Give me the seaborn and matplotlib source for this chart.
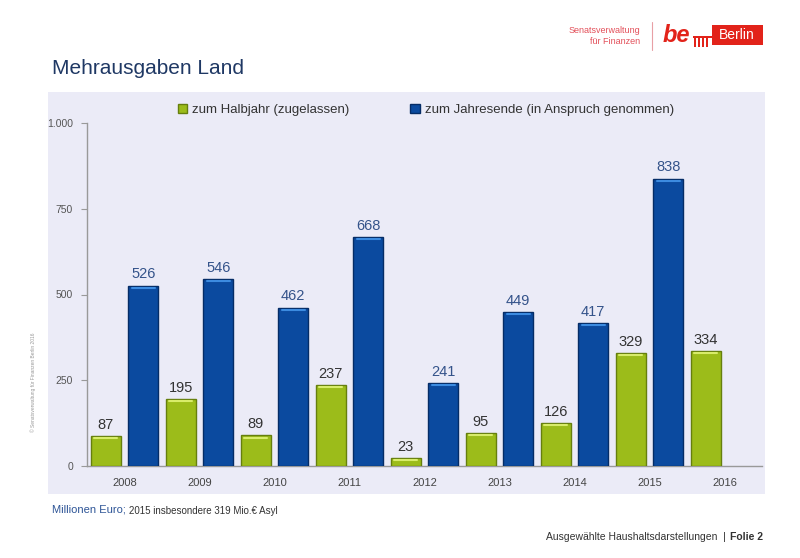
import numpy as np
import pandas as pd
import matplotlib
matplotlib.use("Agg")
import matplotlib.pyplot as plt
import seaborn as sns
from matplotlib.patches import Rectangle, Patch

years = ['2008', '2009', '2010', '2011', '2012', '2013', '2014', '2015', '2016']
halbjahr = [87, 195, 89, 237, 23, 95, 126, 329, 334]
jahresende = [526, 546, 462, 668, 241, 449, 417, 838, np.nan]
series_names = ['zum Halbjahr (zugelassen)', 'zum Jahresende (in Anspruch genommen)']
y_ticks = [0, 250, 500, 750, 1000]
y_tick_labels = ['0', '250', '500', '750', '1.000']

GREEN = '#9CBC1A'
GREEN_EDGE = '#667F0E'
BLUE = '#0B4A9F'
BLUE_EDGE = '#052C66'
SANS = ['Liberation Sans', 'DejaVu Sans']


def main():
    sns.set_style('white')
    plt.rcParams['font.family'] = SANS

    df = pd.DataFrame({
        'Jahr': years * 2,
        'Wert': halbjahr + jahresende,
        'Reihe': [series_names[0]] * len(years) + [series_names[1]] * len(years),
    })

    fig = plt.figure(figsize=(8, 5.58), dpi=100)
    fig.patch.set_facecolor('white')

    # light panel behind the chart
    fig.patches.append(Rectangle((48 / 800, 1 - 494 / 558), 717 / 800, 402 / 558,
                                 transform=fig.transFigure, facecolor='#EBEBF7',
                                 edgecolor='none', zorder=-5))

    ax = fig.add_axes([87 / 800, 1 - 466 / 558, 675 / 800, 343 / 558])
    ax.set_facecolor('none')
    ax.set_zorder(2)

    sns.barplot(data=df, x='Jahr', y='Wert', hue='Reihe', order=years,
                hue_order=series_names, palette=[GREEN, BLUE], saturation=1,
                width=1.0, gap=0.2, ax=ax, legend=False, zorder=3)

    for i, bar in enumerate(ax.patches):
        if np.isnan(bar.get_height()):
            continue
        is_green = i < len(years)
        bar.set_edgecolor(GREEN_EDGE if is_green else BLUE_EDGE)
        bar.set_linewidth(1.0)
        x = bar.get_x() + bar.get_width() / 2
        h = bar.get_height()
        # light top edge, like the bevel in the original
        ax.plot([bar.get_x() + bar.get_width() * 0.12, bar.get_x() + bar.get_width() * 0.88],
                [h - 6, h - 6], color='#D8EC6A' if is_green else '#3C8BE0', lw=1.5,
                zorder=4, solid_capstyle='round')
        ax.text(x, h + 12, f'{h:.0f}', ha='center', va='bottom', fontsize=10.5,
                color='#333333' if is_green else '#34538A', clip_on=False)

    ax.set_ylim(0, 1000)
    ax.set_xlim(-0.5, len(years) - 0.5)
    ax.set_yticks(y_ticks)
    ax.set_yticklabels(y_tick_labels)
    ax.set_xticks(range(len(years)))
    ax.set_xticklabels(years)
    ax.set_xticks(np.arange(len(years) + 1) - 0.5, minor=True)
    ax.tick_params(axis='x', which='major', length=0, pad=9, labelsize=8, labelcolor='#444444')
    ax.tick_params(axis='x', which='minor', length=4, color='#999999', direction='out')
    ax.tick_params(axis='y', length=4, color='#999999', direction='out', left=True,
                   labelsize=7.5, labelcolor='#555555', pad=6)
    ax.set_xlabel('')
    ax.set_ylabel('')
    for side in ['top', 'right']:
        ax.spines[side].set_visible(False)
    for side in ['left', 'bottom']:
        ax.spines[side].set_color('#999999')
        ax.spines[side].set_linewidth(1.0)

    handles = [Patch(facecolor=GREEN, edgecolor=GREEN_EDGE), Patch(facecolor=BLUE, edgecolor=BLUE_EDGE)]
    fig.legend(handles, series_names, loc='center left', bbox_to_anchor=(166 / 800, 1 - 110 / 558),
               ncol=2, frameon=False, fontsize=9.5, handlelength=0.7, handleheight=0.7,
               handletextpad=0.4, columnspacing=4.6, labelcolor='#333333')

    # title
    fig.text(52 / 800, 1 - 68 / 558, 'Mehrausgaben Land', fontsize=15, color='#1F3864',
             va='center', ha='left')

    # logo
    fig.text(640 / 800, 1 - 36 / 558, 'Senatsverwaltung\nfür Finanzen', fontsize=6.5,
             color='#E3505A', ha='right', va='center', linespacing=1.2)
    fig.add_artist(plt.Line2D([652 / 800, 652 / 800], [1 - 22 / 558, 1 - 50 / 558],
                              transform=fig.transFigure, color='#E8A0A5', lw=0.8))
    fig.text(663 / 800, 1 - 36 / 558, 'be', fontsize=17, color='#E2231A',
             weight='bold', style='italic', ha='left', va='center')
    # small gate symbol
    for k in range(4):
        fig.patches.append(Rectangle(((694 + k * 4) / 800, 1 - 47 / 558), 2 / 800, 9 / 558,
                                     transform=fig.transFigure, facecolor='#E2231A', edgecolor='none'))
    fig.patches.append(Rectangle((693 / 800, 1 - 38 / 558), 19 / 800, 2 / 558,
                                 transform=fig.transFigure, facecolor='#E2231A', edgecolor='none'))
    fig.patches.append(Rectangle((712 / 800, 1 - 45 / 558), 51 / 800, 20 / 558,
                                 transform=fig.transFigure, facecolor='#E2231A', edgecolor='none'))
    fig.text(737 / 800, 1 - 35 / 558, 'Berlin', fontsize=10, color='white',
             ha='center', va='center')

    # side note
    fig.text(33 / 800, 1 - 382 / 558, '© Senatsverwaltung für Finanzen Berlin 2016', fontsize=3.5,
             color='#999999', rotation=90, ha='center', va='center')

    # footer
    t = fig.text(52 / 800, 1 - 510 / 558, 'Millionen Euro; ', fontsize=8, color='#2E5597',
                 ha='left', va='center')
    fig.canvas.draw()
    bb = t.get_window_extent()
    fig.text(bb.x1 / 800, 1 - 511 / 558, '2015 insbesondere 319 Mio.€ Asyl', fontsize=7,
             color='#333333', ha='left', va='center')
    t2 = fig.text(763 / 800, 1 - 537 / 558, 'Folie 2', fontsize=7.5, color='#333333',
                  weight='bold', ha='right', va='center')
    fig.canvas.draw()
    bb2 = t2.get_window_extent()
    fig.text((bb2.x0 - 4) / 800, 1 - 537 / 558, 'Ausgewählte Haushaltsdarstellungen  |', fontsize=7.5,
             color='#333333', ha='right', va='center')

    fig.savefig('out.png', dpi=100)


if __name__ == '__main__':
    main()
